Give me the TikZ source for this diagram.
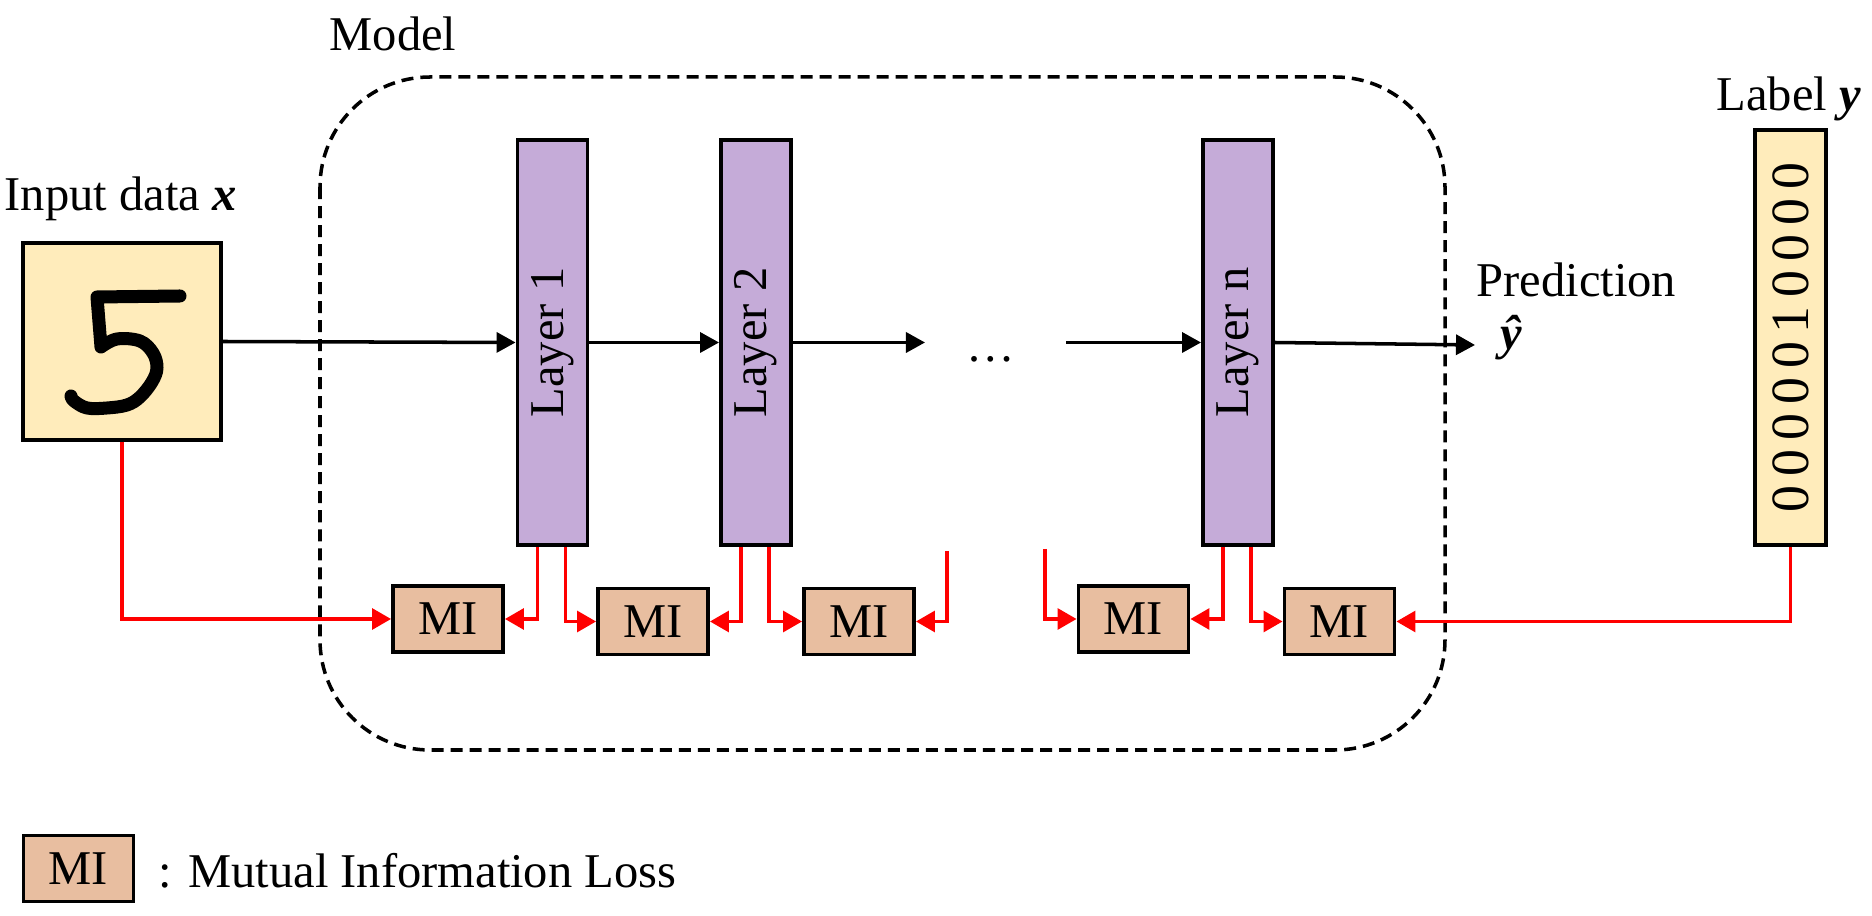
\documentclass[tikz,border=0pt]{standalone}
\usepackage{fontspec}
\setmainfont{Liberation Serif}
\usepackage{graphicx}
\usetikzlibrary{arrows.meta}

\definecolor{datayellow}{RGB}{255,236,187}
\definecolor{layerpurple}{RGB}{197,171,216}
\definecolor{misalmon}{RGB}{232,190,160}

\begin{document}
\begin{tikzpicture}[x=0.01cm,y=-0.01cm,
  font=\fontsize{13.8}{16.5}\selectfont,
  databox/.style={draw,line width=1.1pt,fill=datayellow,inner sep=0pt},
  layerbox/.style={draw,line width=1.1pt,fill=layerpurple,inner sep=0pt,
    minimum width=0.70cm,minimum height=4.05cm},
  mibox/.style={draw,line width=1.1pt,fill=misalmon,inner sep=0pt,
    minimum width=1.10cm,minimum height=0.66cm},
  flow/.style={-{Triangle[length=0.19cm,width=0.2cm]},line width=1pt},
  miflow/.style={-{Triangle[length=0.19cm,width=0.21cm]},line width=0.9pt,red},
  modelframe/.style={dash pattern=on 0.12cm off 0.07cm,line width=1pt,rounded corners=1.1cm},
]
\useasboundingbox (0,0) rectangle (1872,916);

% model frame
\draw[modelframe] (320,77) rectangle (1445,750);
\node[anchor=base west,inner sep=0pt] (model) at (329,51) {Model};

% input and label
\node[anchor=base west,inner sep=0pt] (inptxt) at (4,211) {Input data {\bfseries\itshape x}};
\node[databox,minimum width=1.98cm,minimum height=1.97cm] (inp) at (122,341.5) {};
\draw[line width=3.7pt,line cap=round,line join=round]
  (180,296) -- (97,297) -- (101,347)
  plot[smooth,tension=0.6] coordinates {(101,347) (117,339) (140,341) (153,353)
    (157,368) (152,382) (140,397) (127,405) (107,408) (87,408) (74,401) (71,396)};

\node[anchor=base west,inner sep=0pt] (labtxt) at (1716,111) {Label {\bfseries\itshape y}};
\node[databox,minimum width=0.71cm,minimum height=4.15cm] (lab) at (1790.5,337.5)
  {\rotatebox{90}{\fontsize{15.3}{18}\selectfont 0\,0\,0\,0\,0\,1\,0\,0\,0\,0}};

% layers
\foreach \id/\xpos in {1/552.5,2/756,n/1238} {
  \node[layerbox] (L\id) at (\xpos,342.5) {\rotatebox{90}{Layer \id}};
}
\node[anchor=base] (dots) at (991,362) {\dots};
\coordinate (gapin) at (925,342.5);
\coordinate (gapout) at (1066,342.5);
\coordinate (predend) at (1475,345);
\node[anchor=base west,inner sep=0pt] (predtxt) at (1476,297) {Prediction};
\node[anchor=base west,inner sep=0pt] (yhat) at (1500,350) {\bfseries\itshape ŷ};

\draw[flow] (inp.east) -- (L1.west);
\draw[flow] (L1.east) -- (L2.west);
\draw[flow] (L2.east) -- (gapin);
\draw[flow] (gapout) -- (Ln.west);
\draw[flow] (Ln.east) -- (predend);

% MI blocks
\foreach \id/\xpos/\ypos in {1/448/619,2/653/621.5,3/859/621.5,4/1133.5/619,5/1339.5/621.5} {
  \node[mibox] (MI\id) at (\xpos,\ypos) {MI};
}
\coordinate (free1) at (947,551);
\coordinate (free2) at (1045,549);

\draw[miflow] (inp.south) |- (MI1.west);
\foreach \lay/\lmi/\rmi in {1/1/2,2/2/3,n/4/5} {
  \draw[miflow] ([xshift=0.22cm]L\lay.south west) |- (MI\lmi.east);
  \draw[miflow] ([xshift=-0.24cm]L\lay.south east) |- (MI\rmi.west);
}
\draw[miflow] (free1) |- (MI3.east);
\draw[miflow] (free2) |- (MI4.west);
\draw[miflow] (lab.south) |- (MI5.east);

% legend
\node[mibox] (key) at (78.5,868.5) {MI};
\node[anchor=base west,inner sep=0pt] (keytxt) at (158,888) {: Mutual Information Loss};
\end{tikzpicture}
\end{document}
